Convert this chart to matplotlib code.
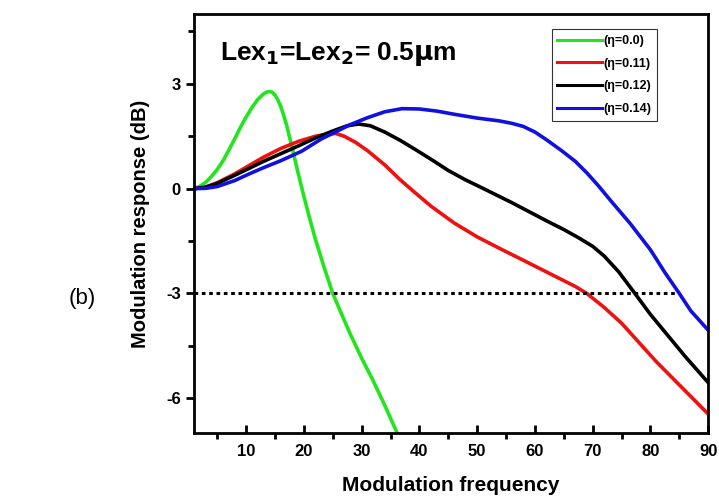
import numpy as np
import matplotlib.pyplot as plt
from matplotlib.ticker import MultipleLocator

plt.rcParams['font.family'] = ['Liberation Sans', 'DejaVu Sans']
plt.rcParams['axes.unicode_minus'] = False

# curvas (frecuencia, respuesta en dB)
x_g = [1, 2, 3, 4, 5, 6, 7, 8, 9, 10, 11, 12, 13, 13.5, 14, 14.5, 15, 15.5, 16,
       16.5, 17, 18, 19, 20, 21, 22, 23.5, 25, 26.5, 28, 30, 32, 34, 36.3]
y_g = [0, 0.07, 0.18, 0.35, 0.55, 0.8, 1.1, 1.42, 1.75, 2.05, 2.32, 2.55, 2.71,
       2.76, 2.78, 2.76, 2.68, 2.54, 2.35, 2.1, 1.82, 1.15, 0.45, -0.22, -0.85,
       -1.45, -2.25, -3.0, -3.58, -4.15, -4.85, -5.5, -6.2, -7.05]

x_r = [1, 3, 5, 8, 10.5, 13, 16, 19, 22, 24, 25.5, 27, 29, 31, 34, 36.7, 39, 42,
       46, 50, 54, 58, 61, 64, 67, 69, 72, 75, 78, 81, 84, 87, 90]
y_r = [0, 0.05, 0.17, 0.42, 0.66, 0.9, 1.15, 1.35, 1.5, 1.56, 1.58, 1.5, 1.32,
       1.09, 0.68, 0.25, -0.08, -0.5, -0.98, -1.38, -1.72, -2.05, -2.3, -2.55,
       -2.8, -3.0, -3.4, -3.85, -4.4, -4.95, -5.45, -5.95, -6.45]

x_k = [1, 3, 5, 8, 10.5, 13, 16, 19, 22, 25, 27.5, 29.5, 31.5, 34, 36.7, 39.5,
       42.4, 45, 48, 50.5, 53.8, 56, 59, 62, 65, 67.5, 70, 72, 74.5, 77, 80, 83,
       86, 90]
y_k = [0, 0.04, 0.15, 0.38, 0.58, 0.78, 1.0, 1.22, 1.45, 1.65, 1.8, 1.85, 1.8,
       1.62, 1.38, 1.1, 0.8, 0.52, 0.25, 0.05, -0.22, -0.4, -0.66, -0.92, -1.17,
       -1.4, -1.65, -1.93, -2.38, -2.93, -3.6, -4.2, -4.8, -5.55]

x_b = [1, 3, 5, 8, 10.5, 13, 16, 19.6, 23, 25.2, 28, 31, 34, 37, 40, 43, 46,
       50, 53.8, 56, 58, 60, 62, 64.6, 67, 69, 71, 73, 76.5, 80, 82.5, 85, 87, 90]
y_b = [0, 0.01, 0.06, 0.23, 0.42, 0.6, 0.8, 1.07, 1.42, 1.6, 1.83, 2.03, 2.2,
       2.29, 2.28, 2.22, 2.13, 2.02, 1.94, 1.87, 1.78, 1.62, 1.4, 1.09, 0.78,
       0.45, 0.08, -0.32, -1.0, -1.75, -2.4, -3.0, -3.5, -4.05]

etiquetas = ['(\u03b7=0.0)', '(\u03b7=0.11)', '(\u03b7=0.12)', '(\u03b7=0.14)']
colores = ['#22e51e', '#ee1111', 'black', '#1010e0']

fig = plt.figure(figsize=(7.19, 4.98), dpi=100)
ax = fig.add_axes([0.270, 0.130, 0.715, 0.842])

for xs, ys, lab, c in zip([x_g, x_r, x_k, x_b], [y_g, y_r, y_k, y_b],
                          etiquetas, colores):
    ax.plot(xs, ys, color=c, lw=2.6, label=lab, solid_joinstyle='round')

ax.hlines(-3, 1, 84.6, colors='black', linestyles=(0, (1.2, 1.2)), lw=2.2)

ax.set_xlim(1, 90)
ax.set_ylim(-7, 5)
ax.xaxis.set_major_locator(MultipleLocator(10))
ax.xaxis.set_minor_locator(MultipleLocator(5))
ax.yaxis.set_major_locator(MultipleLocator(3))
ax.yaxis.set_minor_locator(MultipleLocator(1.5))
ax.tick_params(axis='x', which='major', direction='in', length=6, width=2)
ax.tick_params(axis='x', which='minor', direction='out', length=4, width=2)
ax.tick_params(axis='y', which='major', direction='out', length=6, width=2)
ax.tick_params(axis='y', which='minor', direction='out', length=4, width=2)
ax.tick_params(which='both', top=False, right=False)
ax.tick_params(axis='x', which='major', pad=8)
for lbl in ax.get_xticklabels() + ax.get_yticklabels():
    lbl.set_fontweight('bold')
    lbl.set_fontsize(12)
for sp in ax.spines.values():
    sp.set_linewidth(2)

ax.set_xlabel('Modulation frequency', fontsize=15, fontweight='bold', labelpad=12)
ax.set_ylabel('Modulation response (dB)', fontsize=14.5, fontweight='bold', labelpad=12)

ax.text(0.05, 0.905, r'Lex$_\mathbf{1}$=Lex$_\mathbf{2}$= 0.5$\mathbf{\mu}$m',
        transform=ax.transAxes, fontsize=19, fontweight='bold', va='center')

leg = ax.legend(loc='upper right', bbox_to_anchor=(0.913, 0.978),
                prop={'size': 9, 'weight': 'bold'}, frameon=True,
                fancybox=False, edgecolor='black', handlelength=3.6,
                handletextpad=0.1, borderpad=0.45, labelspacing=0.85)
leg.get_frame().set_linewidth(0.8)
for h in leg.get_lines():
    h.set_linewidth(2.2)

fig.text(0.115, 0.40, '(b)', fontsize=16, va='center', ha='center')

fig.savefig('out.png', dpi=100)
